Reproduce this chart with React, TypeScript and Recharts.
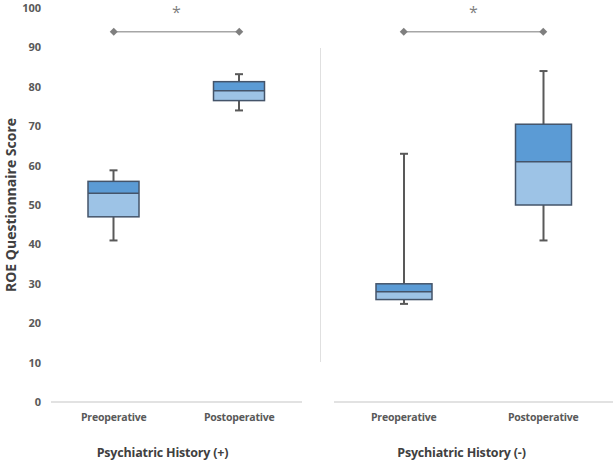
import React from "react";
import { Bar, ComposedChart, Line, ReferenceLine, XAxis, YAxis } from "recharts";

const categories = ["Preoperative", "Postoperative"];
const yTicks = [0, 10, 20, 30, 40, 50, 60, 70, 80, 90, 100];

// Psychiatric History (+)
const posMin = [41, 74];
const posQ1 = [47, 76.5];
const posMedian = [53, 79];
const posQ3 = [56, 81.3];
const posMax = [58.8, 83.2];

// Psychiatric History (-)
const negMin = [24.9, 41];
const negQ1 = [26, 50];
const negMedian = [28, 61];
const negQ3 = [30, 70.5];
const negMax = [63, 84];

const sigLevel = 94;
const starLevel = 99;

const FONT = "'Open Sans', sans-serif";
const Y_TICK = { fill: "#595959", fontSize: 11, fontWeight: 700, fontFamily: FONT };
const X_TICK = { fill: "#595959", fontSize: 10.5, fontWeight: 700, fontFamily: FONT, letterSpacing: -0.2 };
const GROUP_LABEL = { fill: "#404040", fontSize: 12.5, fontWeight: 700, fontFamily: FONT, letterSpacing: -0.2 };

type Row = {
  name: string;
  range: [number, number];
  min: number;
  q1: number;
  median: number;
  q3: number;
  max: number;
  sig: number;
};

function buildRows(mn: number[], q1: number[], md: number[], q3: number[], mx: number[]): Row[] {
  return categories.map((name, i) => ({
    name,
    range: [mn[i], mx[i]],
    min: mn[i],
    q1: q1[i],
    median: md[i],
    q3: q3[i],
    max: mx[i],
    sig: sigLevel,
  }));
}

const posRows = buildRows(posMin, posQ1, posMedian, posQ3, posMax);
const negRows = buildRows(negMin, negQ1, negMedian, negQ3, negMax);

// draws whiskers + box from the range bar [min, max] the library positions for us
function BoxShape(props: any) {
  const { x, y, width, height, payload } = props;
  if (!payload || width == null) return null;
  const top = Math.min(y, y + height);
  const h = Math.abs(height);
  const span = payload.max - payload.min || 1;
  const pix = (v: number) => top + ((payload.max - v) / span) * h;
  const cx = x + width / 2;
  const cap = 4;
  const yMax = pix(payload.max);
  const yMin = pix(payload.min);
  const yQ3 = pix(payload.q3);
  const yQ1 = pix(payload.q1);
  const yMed = pix(payload.median);
  return (
    <g>
      <line x1={cx} x2={cx} y1={yMax} y2={yQ3} stroke="#595959" strokeWidth={2} />
      <line x1={cx} x2={cx} y1={yQ1} y2={yMin} stroke="#595959" strokeWidth={2} />
      <line x1={cx - cap} x2={cx + cap} y1={yMax} y2={yMax} stroke="#595959" strokeWidth={2} />
      <line x1={cx - cap} x2={cx + cap} y1={yMin} y2={yMin} stroke="#595959" strokeWidth={2} />
      <rect x={x} y={yQ3} width={width} height={yMed - yQ3} fill="#5B9BD5" />
      <rect x={x} y={yMed} width={width} height={yQ1 - yMed} fill="#9DC3E6" />
      <rect x={x} y={yQ3} width={width} height={yQ1 - yQ3} fill="none" stroke="#44546A" strokeWidth={1.5} />
      <line x1={x} x2={x + width} y1={yMed} y2={yMed} stroke="#44546A" strokeWidth={1.5} />
    </g>
  );
}

function Diamond(props: any) {
  const { cx, cy } = props;
  if (cx == null || cy == null) return null;
  const r = 4;
  return (
    <path
      d={`M${cx},${cy - r}L${cx + r},${cy}L${cx},${cy + r}L${cx - r},${cy}Z`}
      fill="#7F7F7F"
    />
  );
}

function Panel({
  data,
  title,
  titleShift,
  width,
  margin,
  barSize,
  showYAxis,
}: {
  data: Row[];
  title: string;
  titleShift: number;
  width: number;
  margin: { top: number; right: number; left: number; bottom: number };
  barSize: number;
  showYAxis: boolean;
}) {
  return (
    <ComposedChart width={width} height={470} data={data} margin={margin}>
      <XAxis
        dataKey="name"
        axisLine={{ stroke: "#D9D9D9", strokeWidth: 1.5 }}
        tickLine={false}
        tick={X_TICK}
        tickMargin={6}
        height={58}
        interval={0}
        label={{ value: title, position: "insideBottom", offset: 3, dx: titleShift, style: GROUP_LABEL }}
      />
      <YAxis
        hide={!showYAxis}
        domain={[0, 100]}
        ticks={yTicks}
        interval={0}
        axisLine={false}
        tickLine={false}
        tick={Y_TICK}
        tickMargin={4}
        width={51}
        label={{
          value: "ROE Questionnaire Score",
          angle: -90,
          position: "center",
          dx: -14,
          style: { fill: "#404040", fontSize: 14, fontWeight: 700, fontFamily: FONT },
        }}
      />
      <ReferenceLine
        y={starLevel}
        stroke="none"
        label={{ value: "*", position: "center", style: { fill: "#7F7F7F", fontSize: 16, fontFamily: FONT } }}
      />
      <Bar dataKey="range" barSize={barSize} shape={<BoxShape />} isAnimationActive={false} />
      <Line
        dataKey="sig"
        stroke="#A6A6A6"
        strokeWidth={1.5}
        dot={<Diamond />}
        activeDot={false}
        isAnimationActive={false}
      />
    </ComposedChart>
  );
}

export default function App() {
  return (
    <div style={{ position: "absolute", left: 0, top: 0, width: 614, height: 460, background: "#fff", overflow: "hidden" }}>
      <div style={{ position: "absolute", left: 0, top: -10 }}>
        <Panel
          data={posRows}
          title="Psychiatric History (+)"
          titleShift={-14}
          width={310}
          margin={{ top: 18, right: 8, left: 0, bottom: 0 }}
          barSize={51}
          showYAxis
        />
      </div>
      <div style={{ position: "absolute", left: 310, top: -10 }}>
        <Panel
          data={negRows}
          title="Psychiatric History (-)"
          titleShift={-12}
          width={304}
          margin={{ top: 18, right: 1, left: 24, bottom: 0 }}
          barSize={56}
          showYAxis={false}
        />
      </div>
      <div style={{ position: "absolute", left: 320, top: 48, width: 1, height: 314, background: "#E0E0E0" }} />
    </div>
  );
}
